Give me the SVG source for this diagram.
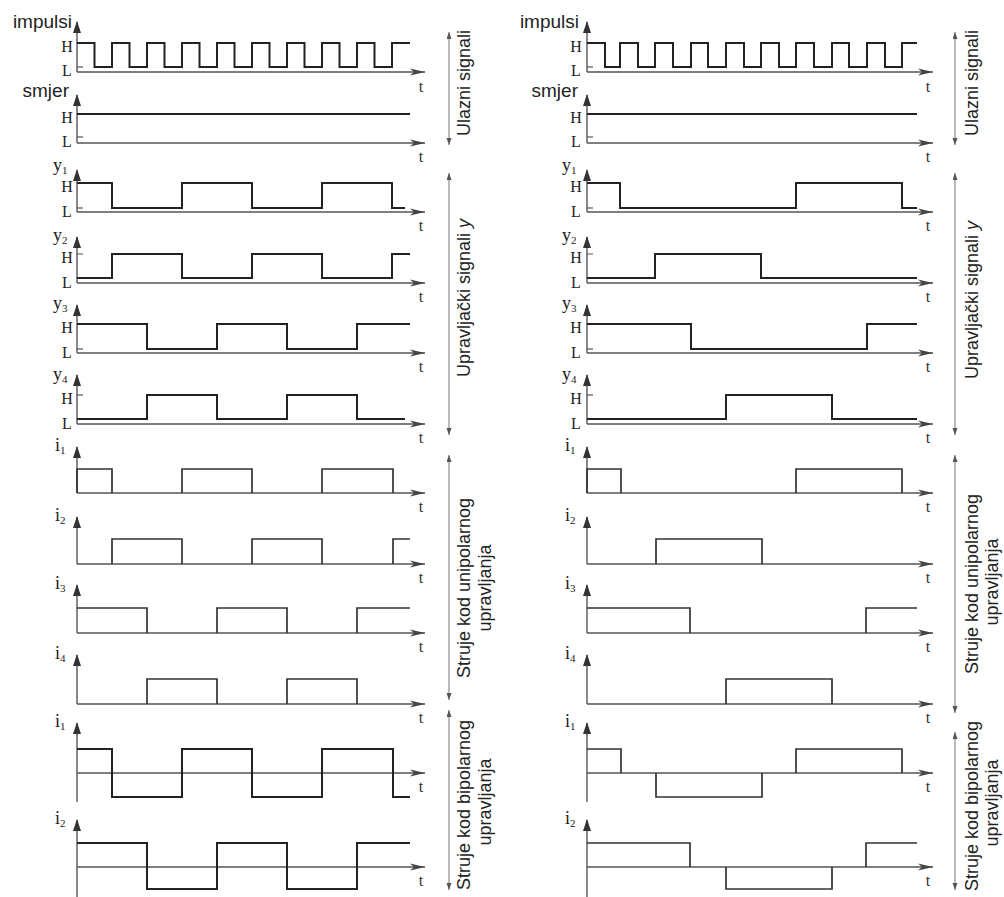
<svg xmlns="http://www.w3.org/2000/svg" width="1004" height="897" viewBox="0 0 1004 897">
<style>
.ax{stroke:#555;stroke-width:1.4;fill:none}
.tk{stroke:#555;stroke-width:1.2;fill:none}
.sig{stroke:#222;stroke-width:2;fill:none}
.cur{stroke:#333;stroke-width:1.7;fill:none}
.br{stroke:#777;stroke-width:1;fill:none}
.hl{font-family:"Liberation Serif",serif;font-size:16px;fill:#222;text-anchor:middle}
.tt{font-family:"Liberation Serif",serif;font-size:16px;fill:#333;text-anchor:middle}
.nm{font-family:"Liberation Serif",serif;font-size:18px;fill:#222}
.sub{font-size:11px}
.sans{font-family:"Liberation Sans",Arial,sans-serif;font-size:19px;fill:#222}
.rot{font-family:"Liberation Sans",Arial,sans-serif;font-size:18px;fill:#222;text-anchor:middle}
</style>
<defs>
<marker id="va" markerUnits="userSpaceOnUse" markerWidth="12" markerHeight="8" refX="11" refY="4" orient="auto"><path d="M0,0 L12,4 L0,8 z" fill="#333"/></marker>
<marker id="ha" markerUnits="userSpaceOnUse" markerWidth="16" markerHeight="8" refX="15" refY="4" orient="auto"><path d="M0,0.5 L15,4 L0,7.5 L4,4 z" fill="#444"/></marker>
<marker id="ba" markerUnits="userSpaceOnUse" markerWidth="8" markerHeight="6" refX="7" refY="2.5" orient="auto-start-reverse"><path d="M0,0 L7,2.5 L0,5 z" fill="#555"/></marker>
</defs>

<!-- LEFT COLUMN -->
<g id="L-impulsi">
<line class="ax" x1="77" y1="72" x2="77" y2="22" marker-end="url(#va)"/>
<line class="ax" x1="77" y1="72" x2="425" y2="72" marker-end="url(#ha)"/>
<path class="tk" d="M77,67 H83"/>
<text class="sans" x="72" y="28" text-anchor="end">impulsi</text>
<text class="hl" x="67" y="52">H</text>
<text class="hl" x="67" y="76">L</text>
<polyline class="sig" points="77,43 94.5,43 94.5,67 112,67 112,43 129.5,43 129.5,67 147,67 147,43 164.5,43 164.5,67 182,67 182,43 199.5,43 199.5,67 217,67 217,43 234.5,43 234.5,67 252,67 252,43 269.5,43 269.5,67 287,67 287,43 304.5,43 304.5,67 322,67 322,43 339.5,43 339.5,67 357,67 357,43 374.5,43 374.5,67 392,67 392,43 410,43"/>
<text class="tt" x="421" y="92">t</text>
</g>
<g id="L-smjer">
<line class="ax" x1="77" y1="143" x2="77" y2="95" marker-end="url(#va)"/>
<line class="ax" x1="77" y1="143" x2="425" y2="143" marker-end="url(#ha)"/>
<path class="tk" d="M77,137 H83"/>
<text class="sans" x="69" y="97" text-anchor="end">smjer</text>
<text class="hl" x="67" y="123">H</text>
<text class="hl" x="67" y="147">L</text>
<polyline class="sig" points="77,114 410,114"/>
<text class="tt" x="421" y="162">t</text>
</g>
<g id="L-y1">
<line class="ax" x1="77" y1="212" x2="77" y2="170" marker-end="url(#va)"/>
<line class="ax" x1="77" y1="212" x2="425" y2="212" marker-end="url(#ha)"/>
<path class="tk" d="M77,208 H83"/>
<text class="nm" x="53" y="171">y<tspan class="sub" dy="3">1</tspan></text>
<text class="hl" x="67" y="192">H</text>
<text class="hl" x="67" y="217">L</text>
<polyline class="sig" points="77,183 112,183 112,208 182,208 182,183 252,183 252,208 322,208 322,183 392,183 392,208 405,208"/>
<text class="tt" x="421" y="231">t</text>
</g>
<g id="L-y2">
<line class="ax" x1="77" y1="283" x2="77" y2="237" marker-end="url(#va)"/>
<line class="ax" x1="77" y1="283" x2="425" y2="283" marker-end="url(#ha)"/>
<path class="tk" d="M77,254 H83 M77,278 H83"/>
<text class="nm" x="53" y="241">y<tspan class="sub" dy="3">2</tspan></text>
<text class="hl" x="67" y="263">H</text>
<text class="hl" x="67" y="288">L</text>
<polyline class="sig" points="77,278 112,278 112,254 182,254 182,278 252,278 252,254 322,254 322,278 392,278 392,254 410,254"/>
<text class="tt" x="421" y="302">t</text>
</g>
<g id="L-y3">
<line class="ax" x1="77" y1="353" x2="77" y2="305" marker-end="url(#va)"/>
<line class="ax" x1="77" y1="353" x2="425" y2="353" marker-end="url(#ha)"/>
<path class="tk" d="M77,349 H83"/>
<text class="nm" x="53" y="309">y<tspan class="sub" dy="3">3</tspan></text>
<text class="hl" x="67" y="333">H</text>
<text class="hl" x="67" y="358">L</text>
<polyline class="sig" points="77,324 147,324 147,349 217,349 217,324 287,324 287,349 357,349 357,324 410,324"/>
<text class="tt" x="421" y="372">t</text>
</g>
<g id="L-y4">
<line class="ax" x1="77" y1="424" x2="77" y2="375" marker-end="url(#va)"/>
<line class="ax" x1="77" y1="424" x2="425" y2="424" marker-end="url(#ha)"/>
<path class="tk" d="M77,395 H83"/>
<text class="nm" x="53" y="380">y<tspan class="sub" dy="3">4</tspan></text>
<text class="hl" x="67" y="404">H</text>
<text class="hl" x="67" y="429">L</text>
<polyline class="sig" points="77,419 147,419 147,395 217,395 217,419 287,419 287,395 357,395 357,419 405,419"/>
<text class="tt" x="421" y="443">t</text>
</g>
<g id="L-i1">
<line class="ax" x1="77" y1="493" x2="77" y2="447" marker-end="url(#va)"/>
<line class="ax" x1="77" y1="493" x2="425" y2="493" marker-end="url(#ha)"/>
<text class="nm" x="55" y="451">i<tspan class="sub" dy="3">1</tspan></text>
<path class="cur" d="M77,493 V469 H112 V493 M182,493 V469 H252 V493 M322,493 V469 H393 V493"/>
<text class="tt" x="421" y="512">t</text>
</g>
<g id="L-i2">
<line class="ax" x1="77" y1="564" x2="77" y2="517" marker-end="url(#va)"/>
<line class="ax" x1="77" y1="564" x2="425" y2="564" marker-end="url(#ha)"/>
<text class="nm" x="55" y="521">i<tspan class="sub" dy="3">2</tspan></text>
<path class="cur" d="M112,564 V539 H182 V564 M252,564 V539 H322 V564 M393,564 V539 H410"/>
<text class="tt" x="421" y="583">t</text>
</g>
<g id="L-i3">
<line class="ax" x1="77" y1="633" x2="77" y2="585" marker-end="url(#va)"/>
<line class="ax" x1="77" y1="633" x2="425" y2="633" marker-end="url(#ha)"/>
<text class="nm" x="55" y="589">i<tspan class="sub" dy="3">3</tspan></text>
<path class="cur" d="M77,608 H147 V633 M217,633 V608 H287 V633 M357,633 V608 H410"/>
<text class="tt" x="421" y="652">t</text>
</g>
<g id="L-i4">
<line class="ax" x1="77" y1="704" x2="77" y2="655" marker-end="url(#va)"/>
<line class="ax" x1="77" y1="704" x2="425" y2="704" marker-end="url(#ha)"/>
<text class="nm" x="55" y="659">i<tspan class="sub" dy="3">4</tspan></text>
<path class="cur" d="M147,704 V679 H217 V704 M287,704 V679 H357 V704"/>
<text class="tt" x="421" y="723">t</text>
</g>
<g id="L-bi1">
<line class="ax" x1="77" y1="802" x2="77" y2="723" marker-end="url(#va)"/>
<line class="ax" x1="77" y1="773" x2="425" y2="773" marker-end="url(#ha)"/>
<text class="nm" x="55" y="727">i<tspan class="sub" dy="3">1</tspan></text>
<path class="sig" d="M77,749 H112 V797 H182 V749 H252 V797 H322 V749 H393 V797 H410"/>
<text class="tt" x="421" y="792">t</text>
</g>
<g id="L-bi2">
<line class="ax" x1="77" y1="897" x2="77" y2="820" marker-end="url(#va)"/>
<line class="ax" x1="77" y1="867" x2="425" y2="867" marker-end="url(#ha)"/>
<text class="nm" x="55" y="824">i<tspan class="sub" dy="3">2</tspan></text>
<path class="sig" d="M77,843 H147 V889 H217 V843 H287 V889 H357 V843 H410"/>
<text class="tt" x="421" y="886">t</text>
</g>

<!-- RIGHT COLUMN -->
<g id="R-impulsi">
<line class="ax" x1="587" y1="72" x2="587" y2="22" marker-end="url(#va)"/>
<line class="ax" x1="587" y1="72" x2="933" y2="72" marker-end="url(#ha)"/>
<path class="tk" d="M587,67 H593"/>
<text class="sans" x="579" y="28" text-anchor="end">impulsi</text>
<text class="hl" x="576" y="52">H</text>
<text class="hl" x="576" y="76">L</text>
<polyline class="sig" points="587,43 605,43 605,67 620,67 620,43 638,43 638,67 655,67 655,43 673,43 673,67 691,67 691,43 708,43 708,67 726,67 726,43 744,43 744,67 761,67 761,43 779,43 779,67 796,67 796,43 814,43 814,67 832,67 832,43 849,43 849,67 867,67 867,43 885,43 885,67 902,67 902,43 917,43"/>
<text class="tt" x="928" y="92">t</text>
</g>
<g id="R-smjer">
<line class="ax" x1="587" y1="143" x2="587" y2="95" marker-end="url(#va)"/>
<line class="ax" x1="587" y1="143" x2="933" y2="143" marker-end="url(#ha)"/>
<path class="tk" d="M587,137 H593"/>
<text class="sans" x="578" y="97" text-anchor="end">smjer</text>
<text class="hl" x="576" y="123">H</text>
<text class="hl" x="576" y="147">L</text>
<polyline class="sig" points="587,114 917,114"/>
<text class="tt" x="928" y="162">t</text>
</g>
<g id="R-y1">
<line class="ax" x1="587" y1="212" x2="587" y2="170" marker-end="url(#va)"/>
<line class="ax" x1="587" y1="212" x2="933" y2="212" marker-end="url(#ha)"/>
<path class="tk" d="M587,208 H593"/>
<text class="nm" x="562" y="171">y<tspan class="sub" dy="3">1</tspan></text>
<text class="hl" x="576" y="192">H</text>
<text class="hl" x="576" y="217">L</text>
<polyline class="sig" points="587,183 620,183 620,208 796,208 796,183 902,183 902,208 917,208"/>
<text class="tt" x="928" y="231">t</text>
</g>
<g id="R-y2">
<line class="ax" x1="587" y1="283" x2="587" y2="237" marker-end="url(#va)"/>
<line class="ax" x1="587" y1="283" x2="933" y2="283" marker-end="url(#ha)"/>
<path class="tk" d="M587,254 H593 M587,278 H593"/>
<text class="nm" x="562" y="241">y<tspan class="sub" dy="3">2</tspan></text>
<text class="hl" x="576" y="263">H</text>
<text class="hl" x="576" y="288">L</text>
<polyline class="sig" points="587,278 655,278 655,254 761,254 761,278 917,278"/>
<text class="tt" x="928" y="302">t</text>
</g>
<g id="R-y3">
<line class="ax" x1="587" y1="353" x2="587" y2="305" marker-end="url(#va)"/>
<line class="ax" x1="587" y1="353" x2="933" y2="353" marker-end="url(#ha)"/>
<path class="tk" d="M587,349 H593"/>
<text class="nm" x="562" y="309">y<tspan class="sub" dy="3">3</tspan></text>
<text class="hl" x="576" y="333">H</text>
<text class="hl" x="576" y="358">L</text>
<polyline class="sig" points="587,324 691,324 691,349 867,349 867,324 917,324"/>
<text class="tt" x="928" y="372">t</text>
</g>
<g id="R-y4">
<line class="ax" x1="587" y1="424" x2="587" y2="375" marker-end="url(#va)"/>
<line class="ax" x1="587" y1="424" x2="933" y2="424" marker-end="url(#ha)"/>
<path class="tk" d="M587,395 H593"/>
<text class="nm" x="562" y="380">y<tspan class="sub" dy="3">4</tspan></text>
<text class="hl" x="576" y="404">H</text>
<text class="hl" x="576" y="429">L</text>
<polyline class="sig" points="587,419 726,419 726,395 832,395 832,419 917,419"/>
<text class="tt" x="928" y="443">t</text>
</g>
<g id="R-i1">
<line class="ax" x1="587" y1="493" x2="587" y2="447" marker-end="url(#va)"/>
<line class="ax" x1="587" y1="493" x2="933" y2="493" marker-end="url(#ha)"/>
<text class="nm" x="565" y="451">i<tspan class="sub" dy="3">1</tspan></text>
<path class="cur" d="M587,493 V469 H621 V493 M796,493 V469 H902 V493"/>
<text class="tt" x="928" y="512">t</text>
</g>
<g id="R-i2">
<line class="ax" x1="587" y1="564" x2="587" y2="517" marker-end="url(#va)"/>
<line class="ax" x1="587" y1="564" x2="933" y2="564" marker-end="url(#ha)"/>
<text class="nm" x="565" y="521">i<tspan class="sub" dy="3">2</tspan></text>
<path class="cur" d="M656,564 V539 H762 V564"/>
<text class="tt" x="928" y="583">t</text>
</g>
<g id="R-i3">
<line class="ax" x1="587" y1="633" x2="587" y2="585" marker-end="url(#va)"/>
<line class="ax" x1="587" y1="633" x2="933" y2="633" marker-end="url(#ha)"/>
<text class="nm" x="565" y="589">i<tspan class="sub" dy="3">3</tspan></text>
<path class="cur" d="M587,608 H690 V633 M866,633 V608 H917"/>
<text class="tt" x="928" y="652">t</text>
</g>
<g id="R-i4">
<line class="ax" x1="587" y1="704" x2="587" y2="655" marker-end="url(#va)"/>
<line class="ax" x1="587" y1="704" x2="933" y2="704" marker-end="url(#ha)"/>
<text class="nm" x="565" y="659">i<tspan class="sub" dy="3">4</tspan></text>
<path class="cur" d="M726,704 V679 H832 V704"/>
<text class="tt" x="928" y="723">t</text>
</g>
<g id="R-bi1">
<line class="ax" x1="587" y1="802" x2="587" y2="723" marker-end="url(#va)"/>
<line class="ax" x1="587" y1="773" x2="933" y2="773" marker-end="url(#ha)"/>
<text class="nm" x="565" y="727">i<tspan class="sub" dy="3">1</tspan></text>
<path class="cur" d="M587,749 H621 V773 M656,773 V797 H762 V773 M796,773 V749 H902 V773"/>
<text class="tt" x="928" y="792">t</text>
</g>
<g id="R-bi2">
<line class="ax" x1="587" y1="897" x2="587" y2="820" marker-end="url(#va)"/>
<line class="ax" x1="587" y1="867" x2="933" y2="867" marker-end="url(#ha)"/>
<text class="nm" x="565" y="824">i<tspan class="sub" dy="3">2</tspan></text>
<path class="cur" d="M587,843 H690 V867 M726,867 V889 H832 V867 M866,867 V843 H917"/>
<text class="tt" x="928" y="886">t</text>
</g>

<!-- group brackets (connectors) -->
<g id="connectors">
<line class="br" x1="449" y1="32" x2="449" y2="145" marker-start="url(#ba)" marker-end="url(#ba)"/>
<line class="br" x1="449" y1="173" x2="449" y2="435" marker-start="url(#ba)" marker-end="url(#ba)"/>
<line class="br" x1="449" y1="455" x2="449" y2="700" marker-start="url(#ba)" marker-end="url(#ba)"/>
<line class="br" x1="449" y1="710" x2="449" y2="890" marker-start="url(#ba)" marker-end="url(#ba)"/>
<line class="br" x1="955" y1="32" x2="955" y2="145" marker-start="url(#ba)" marker-end="url(#ba)"/>
<line class="br" x1="955" y1="173" x2="955" y2="435" marker-start="url(#ba)" marker-end="url(#ba)"/>
<line class="br" x1="955" y1="455" x2="955" y2="713" marker-start="url(#ba)" marker-end="url(#ba)"/>
<line class="br" x1="955" y1="732" x2="955" y2="890" marker-start="url(#ba)" marker-end="url(#ba)"/>
</g>

<g id="group-labels">
<text class="rot" transform="translate(470,83) rotate(-90)">Ulazni signali</text>
<text class="rot" transform="translate(470,298) rotate(-90)">Upravljački signali <tspan font-style="italic">y</tspan></text>
<text class="rot" transform="translate(470,588) rotate(-90)">Struje kod unipolarnog</text>
<text class="rot" transform="translate(491,588) rotate(-90)">upravljanja</text>
<text class="rot" transform="translate(470,805) rotate(-90)">Struje kod bipolarnog</text>
<text class="rot" transform="translate(491,802) rotate(-90)">upravljanja</text>
<text class="rot" transform="translate(978,83) rotate(-90)">Ulazni signali</text>
<text class="rot" transform="translate(978,300) rotate(-90)">Upravljački signali <tspan font-style="italic">y</tspan></text>
<text class="rot" transform="translate(978,584) rotate(-90)">Struje kod unipolarnog</text>
<text class="rot" transform="translate(998,582) rotate(-90)">upravljanja</text>
<text class="rot" transform="translate(978,806) rotate(-90)">Struje kod bipolarnog</text>
<text class="rot" transform="translate(998,803) rotate(-90)">upravljanja</text>
</g>
</svg>
